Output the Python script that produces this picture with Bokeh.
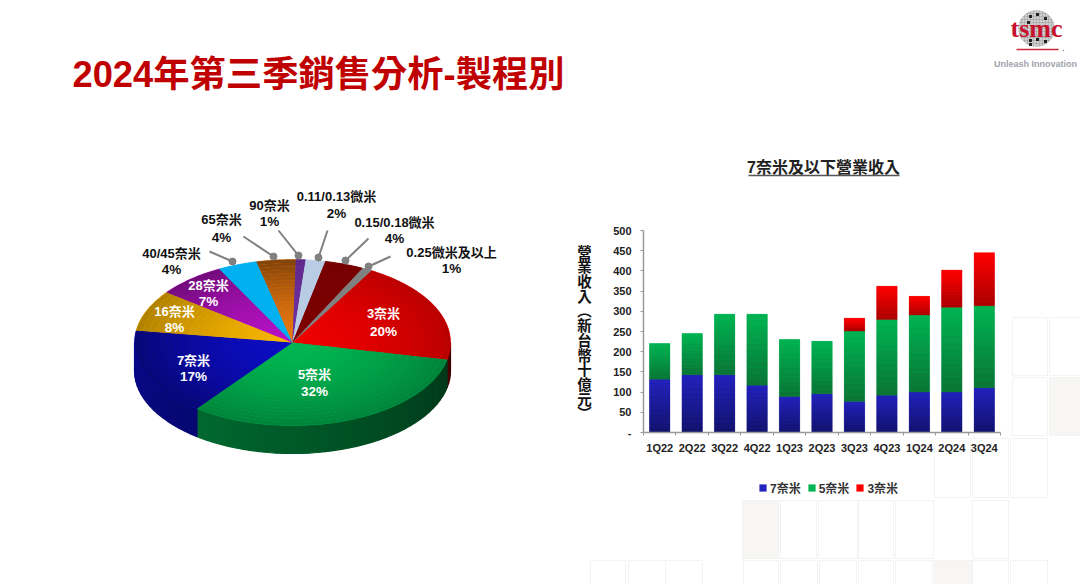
import numpy as np
from bokeh.core.properties import value
from bokeh.document import Document
from bokeh.embed import file_html
from bokeh.models import FixedTicker, Legend, LegendItem, Range1d
from bokeh.plotting import figure
from bokeh.resources import INLINE

# ---------- data ----------
pie_names = ["3奈米", "5奈米", "7奈米", "16奈米", "28奈米", "40/45奈米", "65奈米", "90奈米",
             "0.11/0.13微米", "0.15/0.18微米", "0.25微米及以上"]
pie_shares = [20, 32, 17, 8, 7, 4, 4, 1, 2, 4, 1]
quarters = ["1Q22", "2Q22", "3Q22", "4Q22", "1Q23", "2Q23", "3Q23", "4Q23", "1Q24", "2Q24", "3Q24"]
rev_7nm = [132, 143, 143, 117, 89, 96, 77, 92, 100, 100, 111]
rev_5nm = [88, 102, 150, 176, 141, 130, 174, 188, 191, 210, 203]
rev_3nm = [0, 0, 0, 0, 0, 0, 32, 82, 46, 92, 131]
y_ticks = [0, 50, 100, 150, 200, 250, 300, 350, 400, 450, 500]

# ---------- styles ----------
FONT = "Liberation Sans, Noto Sans CJK TC"
pie_colors = ["#ee0000", "#00b652", "#0c0cc4", "#f6b400", "#b612c4", "#00b0f0", "#e87810",
              "#7030a0", "#b8cce4", "#7c0000", "#808080"]
rim_shade = [0.78, 0.72, 0.6, 0.72, 0.62, 1.0, 0.55, 0.85, 1.0, 0.95, 1.0]
bar_colors = {"7奈米": ("#2222bc", "#12126c"), "5奈米": ("#00b452", "#0a7436"), "3奈米": ("#ff0000", "#a80000")}
W, H = 1080, 584


def rgb(h):
    return np.array([int(h[i:i + 2], 16) for i in (1, 3, 5)], float)


def hexs(c):
    return "#%02x%02x%02x" % tuple(int(round(v)) for v in np.clip(c, 0, 255))


# ---------- base layer, page-pixel coordinates ----------
base = figure(width=W, height=H, x_range=Range1d(0, W), y_range=Range1d(H, 0),
              output_backend="svg", toolbar_location=None, x_axis_location=None, y_axis_location=None,
              min_border=0, outline_line_color=None, background_fill_color="white", border_fill_color="white")
base.grid.visible = False

tiles = [
    (1012, 1047, 317, 375, "#ffffff"), (1049, 1080, 317, 375, "#ffffff"),
    (1012, 1047, 377, 435, "#ffffff"), (1049, 1080, 377, 435, "#f7f6f4"),
    (934, 970, 438, 497, "#ffffff"), (972, 1008, 438, 497, "#ffffff"), (1010, 1047, 438, 497, "#ffffff"),
    (742, 778, 500, 558, "#f7f6f4"), (780, 816, 500, 558, "#ffffff"), (818, 857, 500, 558, "#ffffff"),
    (858, 893, 500, 558, "#ffffff"), (895, 933, 500, 558, "#ffffff"), (972, 1008, 500, 558, "#ffffff"),
    (590, 625, 560, 584, "#ffffff"), (628, 665, 560, 584, "#ffffff"), (665, 702, 560, 584, "#ffffff"),
    (743, 778, 560, 584, "#ffffff"), (780, 817, 560, 584, "#ffffff"), (819, 856, 560, 584, "#ffffff"),
    (858, 893, 560, 584, "#ffffff"), (895, 932, 560, 584, "#ffffff"), (934, 971, 560, 584, "#f7f6f4"),
    (972, 1008, 560, 584, "#ffffff"), (1010, 1047, 560, 584, "#ffffff"),
]
base.quad(left=[t[0] for t in tiles], right=[t[1] for t in tiles], top=[t[2] for t in tiles],
          bottom=[t[3] for t in tiles], fill_color=[t[4] for t in tiles], line_color="#f3f3f1", line_width=1)


def label(x, y, s, size, color="#111111", style="bold", font=FONT, align="center", lh=1.02):
    base.text([x], [y], text=[s], text_font=value(font), text_font_size=f"{size}px", text_font_style=style,
              text_color=color, text_align=align, text_baseline="middle", text_line_height=lh)


# title
label(72, 74, "2024年第三季銷售分析-製程別", 36.3, color="#c00000", align="left")

# ---------- pie ----------
CX, CY, RX, RY, DEPTH, START = 292, 342, 158, 83, 28, 30.0
cum = np.cumsum([0] + pie_shares) * 3.6 + START


def rim(theta, r=1.0):
    t = np.radians(theta)
    return CX + RX * r * np.sin(t), CY - RY * r * np.cos(t)


# side wall: visible where the rim faces the viewer
wx, wy, wc = [], [], []
for i, col in enumerate(pie_colors):
    a0, a1 = max(cum[i], 90), min(cum[i + 1], 270)
    if a1 <= a0:
        continue
    angs = np.arange(a0, a1 + 3, 3.0)
    angs[-1] = a1
    for a, b in zip(angs[:-1], angs[1:]):
        xa, ya = rim(a)
        xb, yb = rim(b)
        shade = 0.28 + 0.42 * (0.5 * (a + b) - 90) / 180
        wx.append([xa, xb, xb, xa])
        wy.append([ya, yb, yb + DEPTH, ya + DEPTH])
        wc.append(hexs(rgb(col) * shade))
base.patches(wx, wy, fill_color=wc, line_color=wc, line_width=1.2)

# top surface: a flat slice per share, then shaded rings
sx, sy = [], []
for i in range(len(pie_shares)):
    a = np.linspace(cum[i], cum[i + 1], max(3, int(pie_shares[i] * 3.6)))
    x, y = rim(a)
    sx.append([CX] + list(x))
    sy.append([CY] + list(y))
base.patches(sx, sy, fill_color=pie_colors, line_color=pie_colors, line_width=0.5)

rx_, ry_, rc_ = [], [], []
RINGS = 24
for i, col in enumerate(pie_colors):
    a = np.linspace(cum[i], cum[i + 1], max(3, int(pie_shares[i] * 3.6)))
    for k in range(RINGS):
        r0, r1 = k / RINGS, (k + 1) / RINGS
        xo, yo = rim(a, r1)
        xi, yi = rim(a[::-1], r0)
        rx_.append(list(xo) + list(xi))
        ry_.append(list(yo) + list(yi))
        m = 0.5 * (r0 + r1)
        rc_.append(hexs(rgb(col) * (1 - (1 - rim_shade[i]) * m ** 1.6)))
base.patches(rx_, ry_, fill_color=rc_, line_color=None)

# leader lines for the outer labels
leaders = [(232, 261, 209, 251), (273, 256, 243, 236), (298, 255, 278, 230),
           (318, 257, 327, 230), (345, 260, 368, 238), (368, 266, 390, 256)]
base.segment([l[0] for l in leaders], [l[1] for l in leaders], [l[2] for l in leaders], [l[3] for l in leaders],
             line_color="#808080", line_width=2)
base.scatter([l[0] for l in leaders], [l[1] for l in leaders], size=7, marker="circle",
             fill_color="#808080", line_color="#808080")

# pie labels (name, value)
inner = {"3奈米": (383, 313, 331), "5奈米": (314, 374, 391), "7奈米": (193, 360, 376),
         "16奈米": (174, 311, 327), "28奈米": (208, 285, 301)}
outer = {"40/45奈米": (171, 253, 269), "65奈米": (221, 219, 237), "90奈米": (269, 205, 221),
         "0.11/0.13微米": (336, 196, 213), "0.15/0.18微米": (394, 222, 238), "0.25微米及以上": (451, 252, 268)}
for name, share in zip(pie_names, pie_shares):
    if name in inner:
        x, y0, y1 = inner[name]
        color = "#ffffff"
    else:
        x, y0, y1 = outer[name]
        color = "#111111"
    label(x, y0, name, 13, color)
    label(x, y1, f"{share}%", 13.5, color)

# chart title and vertical axis title
label(823, 167, "7奈米及以下營業收入", 16, "#222222")
base.segment([748], [175], [899], [175], line_color="#555555", line_width=1.5)
label(584, 333, "營\n業\n收\n入\n︵\n新\n台\n幣\n十\n億\n元\n︶", 14.5, "#111111", lh=0.92)

# ---------- logo ----------
LX, LY, LR = 1036, 28, 18
base.ellipse([LX], [LY], width=2 * LR, height=2 * LR, fill_color="#cfcfcf", line_color="#b0b0b0", line_width=0.5)
gx0, gy0, gx1, gy1 = [], [], [], []
for off in range(-15, 16, 3):
    half = (LR ** 2 - off ** 2) ** 0.5
    gx0 += [LX + off, LX - half]
    gy0 += [LY - half, LY + off]
    gx1 += [LX + off, LX + half]
    gy1 += [LY + half, LY + off]
base.segment(gx0, gy0, gx1, gy1, line_color="#9a9a9a", line_width=0.5)
dots = [(1030, 16), (1037, 14), (1045, 18), (1028, 22), (1030, 40), (1037, 39), (1045, 41), (1030, 44)]
base.scatter([d[0] for d in dots], [d[1] for d in dots], size=3, marker="square",
             fill_color="#222222", line_color=None)
label(1036, 28, "tsmc", 26, "#c8102e", font="Liberation Serif")
base.segment([1016], [49], [1058], [49], line_color="#cf2a3a", line_width=1.5)
base.scatter([1063], [50], size=1.5, marker="circle", fill_color="#888888", line_color=None)
label(1035, 63, "Unleash Innovation", 9, "#a0a4ac")

# ---------- bars, on their own scales ----------
AX_L, AX_R, AX_T, AX_B = 643, 1000, 230, 432
bars = figure(width=W, height=H, x_range=Range1d(0, len(quarters)), y_range=Range1d(y_ticks[0], y_ticks[-1]),
              output_backend="svg", toolbar_location=None, min_border_left=AX_L, min_border_right=W - AX_R,
              min_border_top=AX_T, min_border_bottom=H - AX_B, outline_line_color=None,
              background_fill_color=None, border_fill_color=None)
bars.grid.visible = False
centers = [i + 0.5 for i in range(len(quarters))]
BAR_W = 0.63
series = {"7奈米": rev_7nm, "5奈米": rev_5nm, "3奈米": rev_3nm}
src = dict(x=centers, **series)
names = list(series)
stack = bars.vbar_stack(names, x="x", width=BAR_W, source=src, line_color=None,
                        color=[bar_colors[n][0] for n in names])

# vertical shading of each stacked segment
L, R, T, B, C = [], [], [], [], []
STRIPS = 12
bottoms = np.zeros(len(quarters))
for n in names:
    vals = np.array(series[n], float)
    top_c, bot_c = rgb(bar_colors[n][0]), rgb(bar_colors[n][1])
    for i, c in enumerate(centers):
        if vals[i] <= 0:
            continue
        for k in range(STRIPS):
            f0, f1 = k / STRIPS, (k + 1) / STRIPS
            L.append(c - BAR_W / 2)
            R.append(c + BAR_W / 2)
            B.append(bottoms[i] + vals[i] * f0)
            T.append(bottoms[i] + vals[i] * f1)
            C.append(hexs(bot_c + (top_c - bot_c) * (f0 + f1) / 2))
    bottoms += vals
bars.quad(left=L, right=R, top=T, bottom=B, fill_color=C, line_color=C, line_width=0.3)

xa = bars.xaxis[0]
xa.ticker = FixedTicker(ticks=centers, minor_ticks=list(range(len(quarters) + 1)))
xa.major_label_overrides = {c: q for c, q in zip(centers, quarters)}
xa.major_tick_line_color = None
xa.major_tick_in = xa.major_tick_out = 0
xa.minor_tick_in = 0
xa.minor_tick_out = 3
xa.minor_tick_line_color = "#999999"
xa.major_label_standoff = 6
ya = bars.yaxis[0]
ya.ticker = FixedTicker(ticks=y_ticks)
ya.major_label_overrides = {0: "-"}
ya.major_tick_in = 0
ya.major_tick_out = 3
ya.major_tick_line_color = "#999999"
ya.minor_tick_line_color = None
ya.major_label_standoff = 9
for ax in (xa, ya):
    ax.axis_line_color = "#999999"
    ax.axis_line_width = 1.5
    ax.major_label_text_font = FONT
    ax.major_label_text_font_size = "11px"
    ax.major_label_text_font_style = "bold"
    ax.major_label_text_color = "#222222"

# legend lives on the full-page layer, so it may sit below the bar frame;
# its swatch renderers are zero-sized so that only the legend shows them
swatches = [base.quad(left=[0], right=[0], top=[0], bottom=[0], fill_color=bar_colors[n][0], line_color=None)
            for n in names]
legend = Legend(items=[LegendItem(label=n, renderers=[r]) for n, r in zip(names, swatches)],
                orientation="horizontal", location=(758, H - 496), padding=0, margin=0, spacing=6,
                glyph_width=9, glyph_height=9, label_standoff=3, background_fill_alpha=0, border_line_color=None,
                label_text_font=FONT, label_text_font_size="12px", label_text_font_style="bold",
                label_text_color="#333333")
base.add_layout(legend)

# the bar figure sits over the base layer
bars.styles = {"position": "absolute", "left": "0px", "top": "0px"}
doc = Document()
doc.add_root(base)
doc.add_root(bars)
open("out.html", "w").write(file_html(doc, INLINE))
